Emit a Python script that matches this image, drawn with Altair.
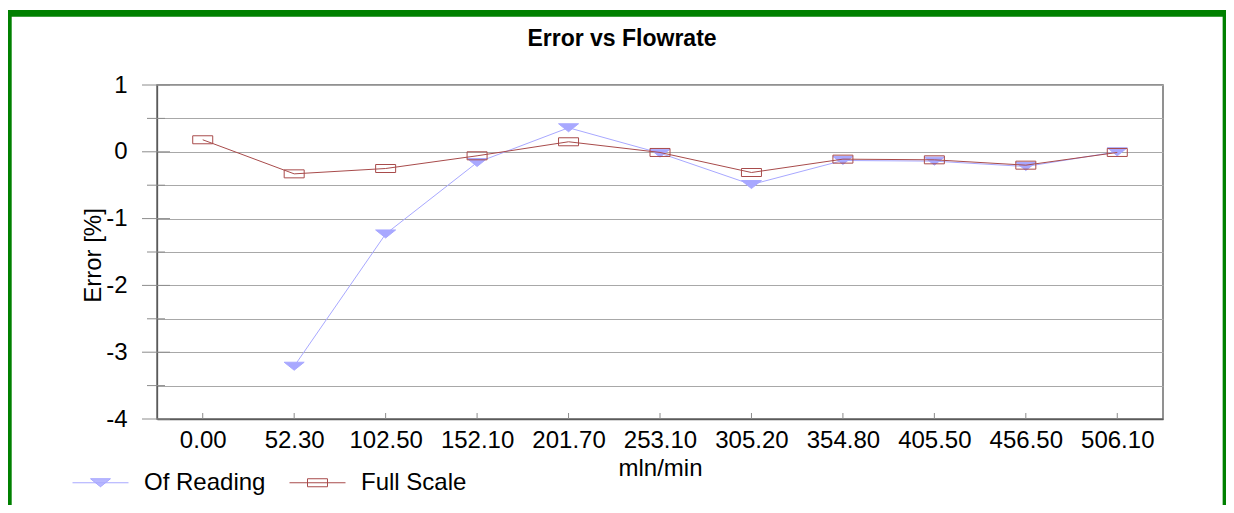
import altair as alt
import pandas as pd

# ---------------- data ----------------
CATEGORIES = ["0.00", "52.30", "102.50", "152.10", "201.70", "253.10",
              "305.20", "354.80", "405.50", "456.50", "506.10"]
SERIES = ["Of Reading", "Full Scale"]
OF_READING = [None, -3.21, -1.23, -0.16, 0.36, -0.02, -0.49, -0.13, -0.14, -0.22, 0.0]
FULL_SCALE = [0.18, -0.33, -0.25, -0.06, 0.15, -0.01, -0.31, -0.11, -0.12, -0.20, -0.01]
Y_MAJOR = [-4, -3, -2, -1, 0, 1]
Y_MINOR = [-3.5, -2.5, -1.5, -0.5, 0.5]
TITLE = "Error vs Flowrate"
X_TITLE = "mln/min"
Y_TITLE = "Error [%]"

rows = []
for c, a, b in zip(CATEGORIES, OF_READING, FULL_SCALE):
    if a is not None:
        rows.append({"flow": c, "series": SERIES[0], "err": a})
    rows.append({"flow": c, "series": SERIES[1], "err": b})
df = pd.DataFrame(rows)
y_grid = sorted(Y_MAJOR + Y_MINOR)

# ---------------- styles ----------------
FONT = "Liberation Sans"
BLUE = "#A8A8FF"
RED = "#A84B4B"
GREEN = "#008000"
GRID = "#A8A8A8"
TICK = "#8C8C8C"
W, H = 1006, 334

TRI = "M-1,-0.4L1,-0.4L0,0.4Z"
RECT = "M-1,-0.4L1,-0.4L1,0.4L-1,0.4Z"

# legend symbols: line + marker, unit = 28px
u = 28.0
parts = ["M-1,0L1,0", "M%.4f,%.4f L%.4f,%.4f L0,%.4f Z" % (-10 / u, -4 / u, 10 / u, -4 / u, 4 / u)]
for k in range(8):
    yy = -3.5 + k
    hw = 10 * (4 - yy) / 8
    parts.append("M%.4f,%.4f L%.4f,%.4f" % (-hw / u, yy / u, hw / u, yy / u))
LEG_TRI = " ".join(parts)
LEG_RECT = "M-1,0L1,0 M%.4f,%.4f L%.4f,%.4f L%.4f,%.4f L%.4f,%.4f Z" % (
    -10 / u, -4 / u, 10 / u, -4 / u, 10 / u, 4 / u, -10 / u, 4 / u)

x_scale = alt.Scale(type="point", domain=CATEGORIES, padding=0.5)
y_scale = alt.Scale(domain=[-4, 1], nice=False, zero=False)

x_axis = alt.Axis(title=X_TITLE, labelAngle=0, ticks=False, labelPadding=28,
                  labelBaseline="alphabetic", labelFontSize=24, grid=False,
                  titleX=W / 2, titleY=56, titleBaseline="alphabetic", titleAlign="center",
                  titleFontSize=24, titleFontWeight="normal")
y_axis = alt.Axis(title=Y_TITLE, values=y_grid,
                  labelExpr="datum.value % 1 == 0 ? toString(datum.value) : ''",
                  ticks=False, labelPadding=30, labelFontSize=24, grid=True,
                  gridColor=GRID, gridWidth=1,
                  titleX=-57, titleY=170, titleBaseline="alphabetic", titleAngle=270,
                  titleAlign="center", titleFontSize=24, titleFontWeight="normal")

legend = alt.Legend(title=None, orient="none", legendX=-85, legendY=369,
                    direction="horizontal", symbolSize=3136, symbolStrokeWidth=1,
                    labelFont=FONT, labelFontSize=24, labelColor="black", labelOffset=15,
                    columnPadding=21, padding=0, labelLimit=400, symbolOpacity=1)

base = alt.Chart(df)

# decorative green frame (left/top/right edges; bottom lies outside the picture)
frame = alt.Chart(alt.Data(values=[{"f": 1}])).mark_rect(
    fillOpacity=0, stroke=GREEN, strokeWidth=6.7
).encode(x=alt.value(-148.65), x2=alt.value(1069), y=alt.value(-71.65), y2=alt.value(480))

major = alt.Chart(pd.DataFrame({"v": Y_MAJOR})).mark_rule(color=TICK, strokeWidth=1).encode(
    y=alt.Y("v:Q", scale=y_scale, axis=y_axis), x=alt.value(-15), x2=alt.value(13))
minor = alt.Chart(pd.DataFrame({"v": Y_MINOR})).mark_rule(color=TICK, strokeWidth=1).encode(
    y=alt.Y("v:Q", scale=y_scale, axis=y_axis), x=alt.value(-10), x2=alt.value(8))
xticks = alt.Chart(pd.DataFrame({"flow": CATEGORIES})).mark_rule(color=TICK, strokeWidth=1).encode(
    x=alt.X("flow:N", scale=x_scale, axis=x_axis), y=alt.value(H - 6), y2=alt.value(H))

def enc(layer):
    return layer.encode(
        x=alt.X("flow:N", scale=x_scale, axis=x_axis),
        y=alt.Y("err:Q", scale=y_scale, axis=y_axis),
    )

blue = base.transform_filter(alt.datum.series == SERIES[0])
red = base.transform_filter(alt.datum.series == SERIES[1])

blue_line = enc(blue.mark_line(color=BLUE, strokeWidth=1))
blue_pts = enc(blue.mark_point(shape=TRI, size=400, filled=True, fill=BLUE,
                               stroke=BLUE, strokeWidth=1, opacity=1))
red_line = enc(red.mark_line(color=RED, strokeWidth=1))
red_pts = enc(red.mark_point(shape=RECT, size=400, filled=False, color=RED,
                             strokeWidth=1, opacity=1))

legend_layer = base.mark_point(filled=False, size=3136, opacity=1, strokeWidth=1, clip=True).encode(
    x=alt.value(0), y=alt.value(-10000),
    stroke=alt.Stroke("series:N", scale=alt.Scale(domain=SERIES, range=[BLUE, RED]), legend=legend),
    shape=alt.Shape("series:N", scale=alt.Scale(domain=SERIES, range=[LEG_TRI, LEG_RECT]), legend=legend),
)

title = alt.Chart(alt.Data(values=[{"t": TITLE}])).mark_text(
    font=FONT, fontSize=23, fontWeight="bold", color="black", align="center", baseline="alphabetic"
).encode(text="t:N", x=alt.value(465), y=alt.value(-39.3))

chart = alt.layer(
    frame, major, minor, xticks, blue_line, blue_pts, red_line, red_pts, legend_layer, title
).properties(
    width=W, height=H,
    autosize=alt.AutoSizeParams(type="none"),
    padding={"left": 149, "top": 77, "right": 63, "bottom": 86},
).configure(font=FONT).configure_view(
    stroke="#6E6E6E", strokeWidth=1.5
).configure_axis(
    domainColor="#5A5A5A", domainWidth=1.3, labelFont=FONT, titleFont=FONT,
    labelColor="black", titleColor="black"
)

chart.save("out.html", embed_options={"renderer": "svg", "actions": False})
